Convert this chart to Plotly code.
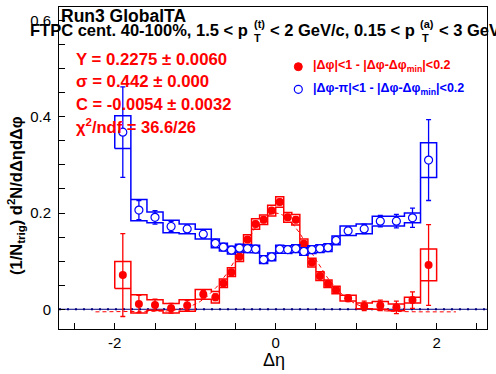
import numpy as np
import plotly.graph_objects as go

# ---------------- data ----------------
eta_edges = [-2.0, -1.8, -1.6, -1.4, -1.2, -1.0, -0.8, -0.7, -0.6, -0.5, -0.4, -0.3,
             -0.2, -0.1, 0.0, 0.1, 0.2, 0.3, 0.4, 0.5, 0.6, 0.7, 0.8, 1.0, 1.2,
             1.4, 1.6, 1.8, 2.0]

near_y = [0.071, 0.011, 0.009, 0.002, 0.008, 0.031,
          0.025, 0.054, 0.077, 0.109, 0.145, 0.177, 0.186, 0.205,
          0.223, 0.191, 0.186, 0.136, 0.097, 0.069, 0.053, 0.040,
          0.023, 0.007, 0.008, 0.004, 0.019, 0.092]
near_stat = [0.086, 0.018, 0.012, 0.010, 0.010, 0.008,
             0.007, 0.006, 0.006, 0.006, 0.006, 0.006, 0.006, 0.006,
             0.006, 0.006, 0.006, 0.006, 0.006, 0.006, 0.006, 0.007,
             0.007, 0.010, 0.011, 0.013, 0.017, 0.084]
near_sys = [0.028, 0.019, 0.011, 0.010, 0.012, 0.010,
            0.012, 0.009, 0.009, 0.010, 0.010, 0.011, 0.010, 0.011,
            0.011, 0.010, 0.011, 0.010, 0.009, 0.009, 0.008, 0.008,
            0.006, 0.006, 0.008, 0.007, 0.006, 0.033]

away_y = [0.368, 0.206, 0.191, 0.172, 0.167, 0.156,
          0.137, 0.129, 0.123, 0.127, 0.126, 0.125, 0.103, 0.109,
          0.125, 0.124, 0.126, 0.120, 0.124, 0.126, 0.128, 0.143,
          0.163, 0.167, 0.183, 0.183, 0.190, 0.310]
away_stat = [0.094, 0.020, 0.014, 0.010, 0.008, 0.008,
             0.006, 0.006, 0.006, 0.006, 0.006, 0.006, 0.006, 0.006,
             0.006, 0.006, 0.006, 0.006, 0.006, 0.006, 0.006, 0.006,
             0.008, 0.010, 0.012, 0.014, 0.020, 0.084]
away_sys = [0.034, 0.022, 0.011, 0.013, 0.010, 0.010,
            0.009, 0.008, 0.008, 0.008, 0.008, 0.008, 0.008, 0.008,
            0.008, 0.008, 0.008, 0.008, 0.008, 0.008, 0.008, 0.009,
            0.010, 0.010, 0.010, 0.010, 0.010, 0.036]

fit_Y, fit_Y_err = 0.2275, 0.0060
fit_sigma, fit_sigma_err = 0.442, 0.000
fit_C, fit_C_err = -0.0054, 0.0032
chi2, ndf = 36.6, 26
fit_range = [-2.24, 2.24]

x_tickvals = [-2, 0, 2]
x_ticktext = ["-2", "0", "2"]
y_tickvals = [0, 0.2, 0.4, 0.6]
y_ticktext = ["0", "0.2", "0.4", "0.6"]

legend_near = "|Δφ|<1 - |Δφ-Δφ<sub>min</sub>|<0.2"
legend_away = "|Δφ-π|<1 - |Δφ-Δφ<sub>min</sub>|<0.2"

RED = "#ff0000"
BLUE = "#0000ff"
FONT = "Liberation Sans, Arial, Helvetica, sans-serif"

# ---------------- layout geometry ----------------
W, H = 496, 374
L, R, T, B = 59, 9, 7, 45
PW, PH = W - L - R, H - T - B


def px(x):
    return (x - L) / PW


def py(y):
    return (H - B - y) / PH


edges = np.array(eta_edges)
centers = 0.5 * (edges[:-1] + edges[1:])


def band_path(vals, sys):
    up = [v + s for v, s in zip(vals, sys)]
    lo = [v - s for v, s in zip(vals, sys)]
    n = len(vals)
    xs, ys = [edges[0]], [lo[0]]
    for i in range(n):
        xs += [edges[i], edges[i + 1]]
        ys += [up[i], up[i]]
    for i in range(n - 1, -1, -1):
        xs += [edges[i + 1], edges[i]]
        ys += [lo[i], lo[i]]
    return xs, ys


fig = go.Figure()

# fit curve
xf = np.linspace(fit_range[0], fit_range[1], 400)
yf = fit_C + fit_Y / (np.sqrt(2 * np.pi) * fit_sigma) * np.exp(-xf ** 2 / (2 * fit_sigma ** 2))
fig.add_trace(go.Scatter(x=xf, y=yf, mode="lines",
                         line=dict(color=RED, width=1, dash="4px,3px"),
                         hoverinfo="skip", showlegend=False))

# near side
bx, by = band_path(near_y, near_sys)
fig.add_trace(go.Scatter(x=bx, y=by, mode="lines", line=dict(color=RED, width=1.5),
                         showlegend=False, hoverinfo="skip"))
fig.add_trace(go.Scatter(x=centers, y=near_y, mode="markers",
                         marker=dict(symbol="circle", size=8, color=RED),
                         error_y=dict(type="data", array=near_stat, color=RED,
                                      thickness=1.3, width=2.5),
                         showlegend=False))

# away side
bx, by = band_path(away_y, away_sys)
fig.add_trace(go.Scatter(x=bx, y=by, mode="lines", line=dict(color=BLUE, width=1.5),
                         showlegend=False, hoverinfo="skip"))
fig.add_trace(go.Scatter(x=centers, y=away_y, mode="markers",
                         marker=dict(symbol="circle", size=8, color="white",
                                     line=dict(color=BLUE, width=1.2)),
                         error_y=dict(type="data", array=away_stat, color=BLUE,
                                      thickness=1.3, width=2.5),
                         showlegend=False))

shapes = [
    # zero line
    dict(type="line", xref="paper", yref="y", x0=0, x1=1, y0=0, y1=0,
         line=dict(color="#000080", width=1), layer="below"),
    dict(type="line", xref="paper", yref="y", x0=0, x1=1, y0=0, y1=0,
         line=dict(color="#00007a", width=2, dash="2px,6px"), layer="below"),
    # legend markers
    dict(type="circle", xref="paper", yref="paper",
         x0=px(298.3 - 4), x1=px(298.3 + 4), y0=py(66.7 + 4), y1=py(66.7 - 4),
         fillcolor=RED, line=dict(color=RED, width=1)),
    dict(type="circle", xref="paper", yref="paper",
         x0=px(298.3 - 4), x1=px(298.3 + 4), y0=py(89.3 + 4), y1=py(89.3 - 4),
         fillcolor="white", line=dict(color=BLUE, width=1.2)),
]

ann = []


def text(x, y, s, size, color="black", bold=True, xanchor="left", angle=0):
    ann.append(dict(x=px(x), y=py(y), xref="paper", yref="paper", text=(f"<b>{s}</b>" if bold else s),
                    showarrow=False, xanchor=xanchor, yanchor="middle", textangle=angle,
                    font=dict(family=FONT, size=size, color=color)))


# titles
text(59, 16, "Run3 GlobalTA", 17.5)
text(28, 30, "FTPC cent. 40-100%, 1.5 &lt; p", 16.5)
text(251.5, 24, "(t)", 11)
text(252, 37.5, "T", 11)
text(268, 30, "&lt; 2 GeV/c, 0.15 &lt; p", 16.5)
text(418, 24, "(a)", 11)
text(419.5, 37.5, "T", 11)
text(437, 30, "&lt; 3 GeV/c", 16.5)

# fit results
text(74, 59.5, f"Y = {fit_Y:.4f} ± {fit_Y_err:.4f}", 16.8, RED)
text(74, 81.5, f"σ = {fit_sigma:.3f} ± {fit_sigma_err:.3f}", 16.8, RED)
text(74, 103.5, f"C = {fit_C:.4f} ± {fit_C_err:.4f}", 16.5, RED)
text(74, 126, f"χ<sup>2</sup>/ndf = {chi2:.1f}/{ndf}", 16.5, RED)

# legend
text(310.5, 66, legend_near, 12.5, RED)
text(310.5, 89, legend_away, 12.5, BLUE)

# axis titles
text(16, 196, "(1/N<sub>trig</sub>) d<sup>2</sup>N/dΔηdΔφ", 16.5, "black", True, "center", -90)
text(274, 360, "Δη", 18, "black", False, "center")

axis_common = dict(showgrid=False, zeroline=False, showline=True, linecolor="black",
                   linewidth=1, mirror=True, ticks="inside", ticklen=6, tickwidth=1,
                   tickcolor="black", tickfont=dict(family=FONT, size=15, color="black"))

fig.update_layout(
    width=W, height=H,
    margin=dict(l=L, r=R, t=T, b=B, pad=0),
    paper_bgcolor="white", plot_bgcolor="white",
    showlegend=False,
    shapes=shapes, annotations=ann,
    xaxis=dict(range=[-2.693, 2.626], tickvals=x_tickvals, ticktext=x_ticktext,
               minor=dict(ticks="inside", ticklen=6, tickwidth=1, tickcolor="black",
                          dtick=0.5, tick0=0, showgrid=False),
               **axis_common),
    yaxis=dict(range=[-0.041, 0.628], tickvals=y_tickvals, ticktext=y_ticktext,
               minor=dict(ticks="inside", ticklen=6, tickwidth=1, tickcolor="black",
                          dtick=0.05, tick0=0, showgrid=False),
               ticklabelstandoff=4, **axis_common),
)

fig.write_html("out.html", config=dict(displayModeBar=False),
               post_script="document.body.style.margin='0';document.body.style.padding='0';"
                           "document.documentElement.style.overflow='hidden';")
